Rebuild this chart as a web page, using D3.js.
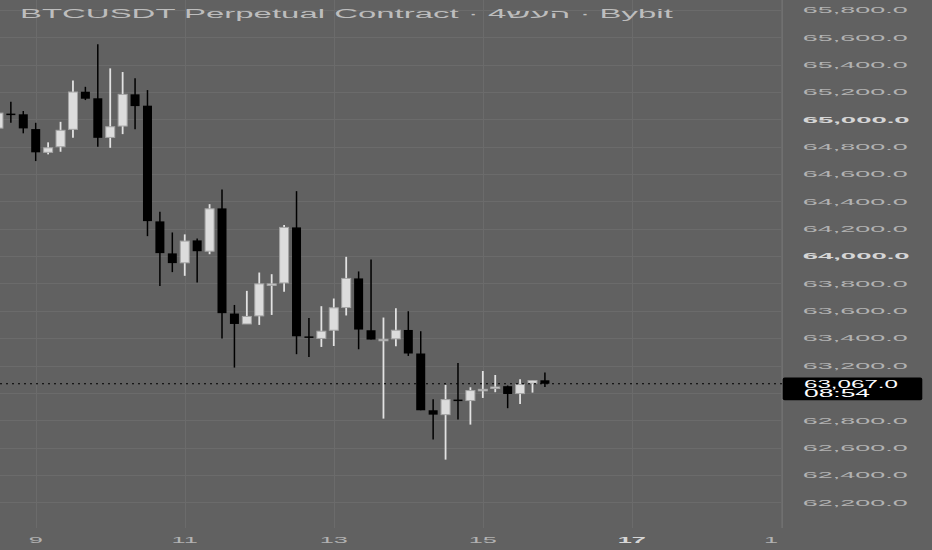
<!DOCTYPE html>
<html>
<head>
<meta charset="utf-8">
<script src="https://cdn.jsdelivr.net/npm/d3@7"></script>
<style>
  html, body { margin: 0; padding: 0; background: #616161; }
  svg { display: block; }
</style>
</head>
<body>
<svg id="chart" width="932" height="550"></svg>
<script>
// ---- DATA (4h candles, BTCUSDT Perpetual, Bybit) ----
const candleIndex = d3.range(45);
const opens  = [64936,65042,65037,64929,64759,64800,64927,65202,65154,64868,64951,65183,65100,64254,64020,63951,64115,64036,64349,63580,63504,63563,63793,63804,64210,63413,63398,63458,63624,63837,63458,63388,63395,63460,63288,62873,62841,62951,62944,63022,63032,63049,62995,63071,63092];
const highs  = [65068,65129,65061,64975,64832,64982,65285,65238,65549,65373,65346,65300,65214,64324,64173,64159,64129,64380,64488,63643,63746,63880,63868,64227,64475,63548,63634,63690,63995,63888,63976,63551,63619,63597,63451,62953,63058,63219,63041,63160,63131,63054,63100,63092,63149];
const lows   = [64922,64975,64898,64695,64744,64763,64865,65141,64800,64792,64892,64927,64146,63782,63883,63856,63807,64014,63398,63185,63504,63497,63570,63739,63283,63263,63336,63343,63566,63319,63390,62812,63341,63270,62873,62659,62512,62805,62768,62963,63005,62888,62919,63002,63043];
const closes = [65046,65035,64934,64759,64792,64920,65200,65151,64865,64946,65183,65097,64256,64022,63949,64110,64036,64346,63583,63504,63559,63797,63797,64210,63414,63407,63451,63622,63837,63463,63390,63392,63458,63288,62873,62841,62951,62941,63017,63026,63043,62992,63061,63090,63067];

const xTickIndex  = [3, 15, 27, 39, 51, 63];
const xTickLabels = ["9", "11", "13", "15", "17", "1"];
const xBoldLabels = ["17"];
const yTicks = d3.range(62200, 65801, 200);
const yBoldTicks = [64000, 65000];
const lastPrice = 63067;
const countdown = "08:54";
const title = "BTCUSDT Perpetual Contract · 4שעה · Bybit";

// ---- LAYOUT ----
const W = 932, H = 550;
const plotRight = 782, plotBottom = 528;
const svg = d3.select("#chart");

const x = d3.scaleLinear().domain([0, 63]).range([-1.56, 780.9]);
const y = d3.scaleLinear().domain([62200, 65600]).range([502.3, 37.3]);

const bg = "#616161", grid = "#6b6b6b";
const font = "Liberation Sans, Arial, sans-serif";
svg.append("rect").attr("width", W).attr("height", H).attr("fill", bg);

// grid
svg.append("g").selectAll("line").data(yTicks).join("line")
  .attr("x1", 0).attr("x2", plotRight)
  .attr("y1", d => Math.round(y(d)) + 0.5).attr("y2", d => Math.round(y(d)) + 0.5)
  .attr("stroke", grid).attr("stroke-width", 1);
svg.append("g").selectAll("line").data(xTickIndex).join("line")
  .attr("x1", d => Math.round(x(d)) + 0.5).attr("x2", d => Math.round(x(d)) + 0.5)
  .attr("y1", 0).attr("y2", plotBottom)
  .attr("stroke", grid).attr("stroke-width", 1);

// axis border
svg.append("line").attr("x1", plotRight + 0.5).attr("x2", plotRight + 0.5)
  .attr("y1", 0).attr("y2", plotBottom).attr("stroke", "#707070");

// title (horizontally stretched; glyphs laid out left-to-right as in the picture)
const tg = svg.append("g");
const tt = tg.append("text")
  .attr("x", 0).attr("y", 0)
  .attr("direction", "ltr").attr("unicode-bidi", "bidi-override")
  .style("direction", "ltr").style("unicode-bidi", "bidi-override")
  .attr("font-family", font)
  .attr("font-size", 12.5).attr("fill", "#bdbdbd")
  .text(title);
const tw = tt.node().getComputedTextLength();
tg.attr("transform", `translate(20,18.3) scale(${653 / tw},1)`);

// candles
const data = candleIndex.map(i => ({i, o: opens[i], h: highs[i], l: lows[i], c: closes[i]}));
const bodyW = 9;
const cg = svg.append("g");
const up = d => d.c >= d.o;

cg.selectAll("line.wick").data(data).join("line")
  .attr("class", "wick")
  .attr("x1", d => x(d.i)).attr("x2", d => x(d.i))
  .attr("y1", d => y(d.h)).attr("y2", d => y(d.l))
  .attr("stroke", d => up(d) ? "#e2e2e2" : "#000")
  .attr("stroke-width", d => up(d) ? 1.8 : 1.5);

cg.selectAll("rect.body").data(data).join("rect")
  .attr("class", "body")
  .attr("x", d => x(d.i) - bodyW / 2)
  .attr("width", bodyW)
  .attr("y", d => Math.min(y(d.o), y(d.c)))
  .attr("height", d => Math.max(1.5, Math.abs(y(d.o) - y(d.c))))
  .attr("fill", d => up(d) ? "#dcdcdc" : "#000")
  .attr("stroke", d => up(d) ? "#a4a4a4" : "none")
  .attr("stroke-width", 1);

// last price dotted line
const py = y(lastPrice);
svg.append("line")
  .attr("x1", 0).attr("x2", plotRight)
  .attr("y1", py).attr("y2", py)
  .attr("stroke", "#000").attr("stroke-width", 1.2)
  .attr("stroke-dasharray", "2,4");

// price tag box extents
const tagTop = py - 6.2, tagH = 22.7;

// y-axis labels (hidden where the price tag covers them)
const yl = svg.append("g");
yTicks.filter(t => {
  const yy = y(t);
  return yy < tagTop - 4 || yy > tagTop + tagH + 4;
}).forEach(t => {
  const bold = yBoldTicks.includes(t);
  yl.append("text")
    .attr("x", 802.7).attr("y", y(t) + 3.3)
    .attr("font-family", font)
    .attr("font-size", 9.8)
    .attr("font-weight", bold ? "bold" : "normal")
    .attr("fill", bold ? "#d6d6d6" : "#b2b2b2")
    .attr("textLength", bold ? 107 : 105).attr("lengthAdjust", "spacingAndGlyphs")
    .text(d3.format(",.1f")(t));
});

// x-axis labels
const xl = svg.append("g");
const sx = 2.7;
xTickIndex.forEach((ti, k) => {
  const lab = xTickLabels[k];
  const bold = xBoldLabels.includes(lab);
  const g = xl.append("g");
  const t = g.append("text")
    .attr("text-anchor", "middle")
    .attr("font-family", font)
    .attr("font-size", 9.4)
    .attr("font-weight", bold ? "bold" : "normal")
    .attr("fill", bold ? "#d6d6d6" : "#b2b2b2")
    .text(lab);
  const half = t.node().getComputedTextLength() * sx / 2;
  const cx = Math.min(x(ti), plotRight - half - 4);
  g.attr("transform", `translate(${cx},543) scale(${sx},1)`);
});

// price tag
svg.append("rect")
  .attr("x", 782.7).attr("y", tagTop).attr("width", 139.6).attr("height", tagH)
  .attr("rx", 2).attr("fill", "#000");
svg.append("text")
  .attr("x", 804).attr("y", py + 3.8)
  .attr("font-family", font)
  .attr("font-size", 10.2).attr("fill", "#fff")
  .attr("textLength", 94).attr("lengthAdjust", "spacingAndGlyphs")
  .text(d3.format(",.1f")(lastPrice));
svg.append("text")
  .attr("x", 804).attr("y", py + 13.2)
  .attr("font-family", font)
  .attr("font-size", 10.2).attr("fill", "#fff")
  .attr("textLength", 66).attr("lengthAdjust", "spacingAndGlyphs")
  .text(countdown);
</script>
</body>
</html>
